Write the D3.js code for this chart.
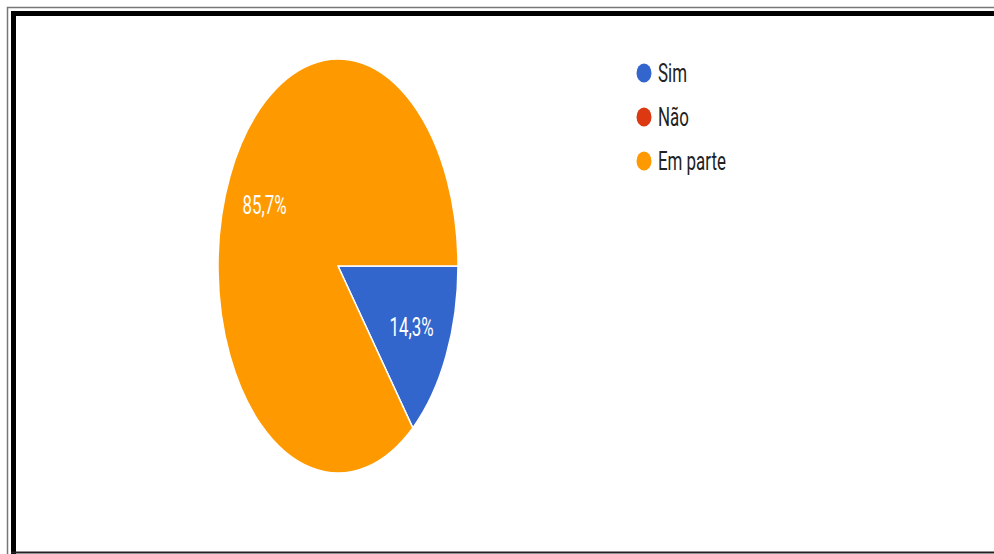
<!DOCTYPE html>
<html>
<head>
<meta charset="utf-8">
<script src="https://cdn.jsdelivr.net/npm/d3@7"></script>
<style>
  html, body { margin: 0; padding: 0; background: #fff; overflow: hidden; }
  svg { display: block; }
</style>
</head>
<body>
<script>
// Survey answers and their counts
const categories = ["Sim", "Não", "Em parte"];
const counts = [1, 0, 6];
const colors = ["#3366cc", "#dc3912", "#ff9900"];

const W = 994, H = 554;
const svg = d3.select("body").append("svg").attr("width", W).attr("height", H);

// Double frame (open on the right)
svg.append("rect").attr("x", 7.5).attr("y", 7.5).attr("width", W + 40).attr("height", H + 40)
  .attr("fill", "none").attr("stroke", "#777").attr("stroke-width", 1.5);
svg.append("rect").attr("x", 13.5).attr("y", 13.5).attr("width", W + 40).attr("height", H + 40)
  .attr("fill", "none").attr("stroke", "#000").attr("stroke-width", 5);
svg.append("line").attr("x1", 11).attr("x2", W).attr("y1", 552.5).attr("y2", 552.5)
  .attr("stroke", "#222").attr("stroke-width", 2);

// Pie, drawn as a circle then stretched vertically
const cx = 338, cy = 266, R = 120, sy = 207 / 120;
const data = categories.map((c, i) => ({ cat: c, value: counts[i], color: colors[i] }));
const total = d3.sum(counts);
const pie = d3.pie().value(d => d.value).sort(null)
  .startAngle(Math.PI / 2).endAngle(Math.PI / 2 + 2 * Math.PI);
const arcs = pie(data);
const arc = d3.arc().innerRadius(0).outerRadius(R);
const labelArc = d3.arc().innerRadius(R * 0.68).outerRadius(R * 0.68);

const pieG = svg.append("g").attr("transform", `translate(${cx},${cy}) scale(1,${sy})`);
pieG.selectAll("path").data(arcs.filter(a => a.value > 0)).join("path")
  .attr("d", arc)
  .attr("fill", d => d.data.color)
  .attr("stroke", "#fff")
  .attr("stroke-width", 1.5)
  .attr("vector-effect", "non-scaling-stroke");

const fmt = v => (v * 100).toFixed(1).replace(".", ",") + "%";
const textSX = 0.65;
svg.selectAll("g.lbl").data(arcs.filter(a => a.value > 0)).join("g")
  .attr("class", "lbl")
  .attr("transform", d => {
    const [x, y] = labelArc.centroid(d);
    return `translate(${cx + x},${cy + y * sy}) scale(${textSX},1)`;
  })
  .append("text")
  .attr("text-anchor", "middle")
  .attr("dy", "0.36em")
  .attr("fill", "#fff")
  .attr("font-family", "Roboto, Arial, sans-serif")
  .attr("font-size", 26)
  .text(d => fmt(d.value / total));

// Legend
const legend = svg.append("g").attr("transform", "translate(644,73)");
const items = legend.selectAll("g").data(data).join("g")
  .attr("transform", (d, i) => `translate(0,${i * 44})`);
items.append("ellipse").attr("rx", 7.5).attr("ry", 9.5).attr("fill", d => d.color);
items.append("g").attr("transform", `translate(14,0) scale(${textSX},1)`)
  .append("text")
  .attr("dy", "0.36em")
  .attr("fill", "#222")
  .attr("font-family", "Roboto, Arial, sans-serif")
  .attr("font-size", 26)
  .text(d => d.cat);
</script>
</body>
</html>
